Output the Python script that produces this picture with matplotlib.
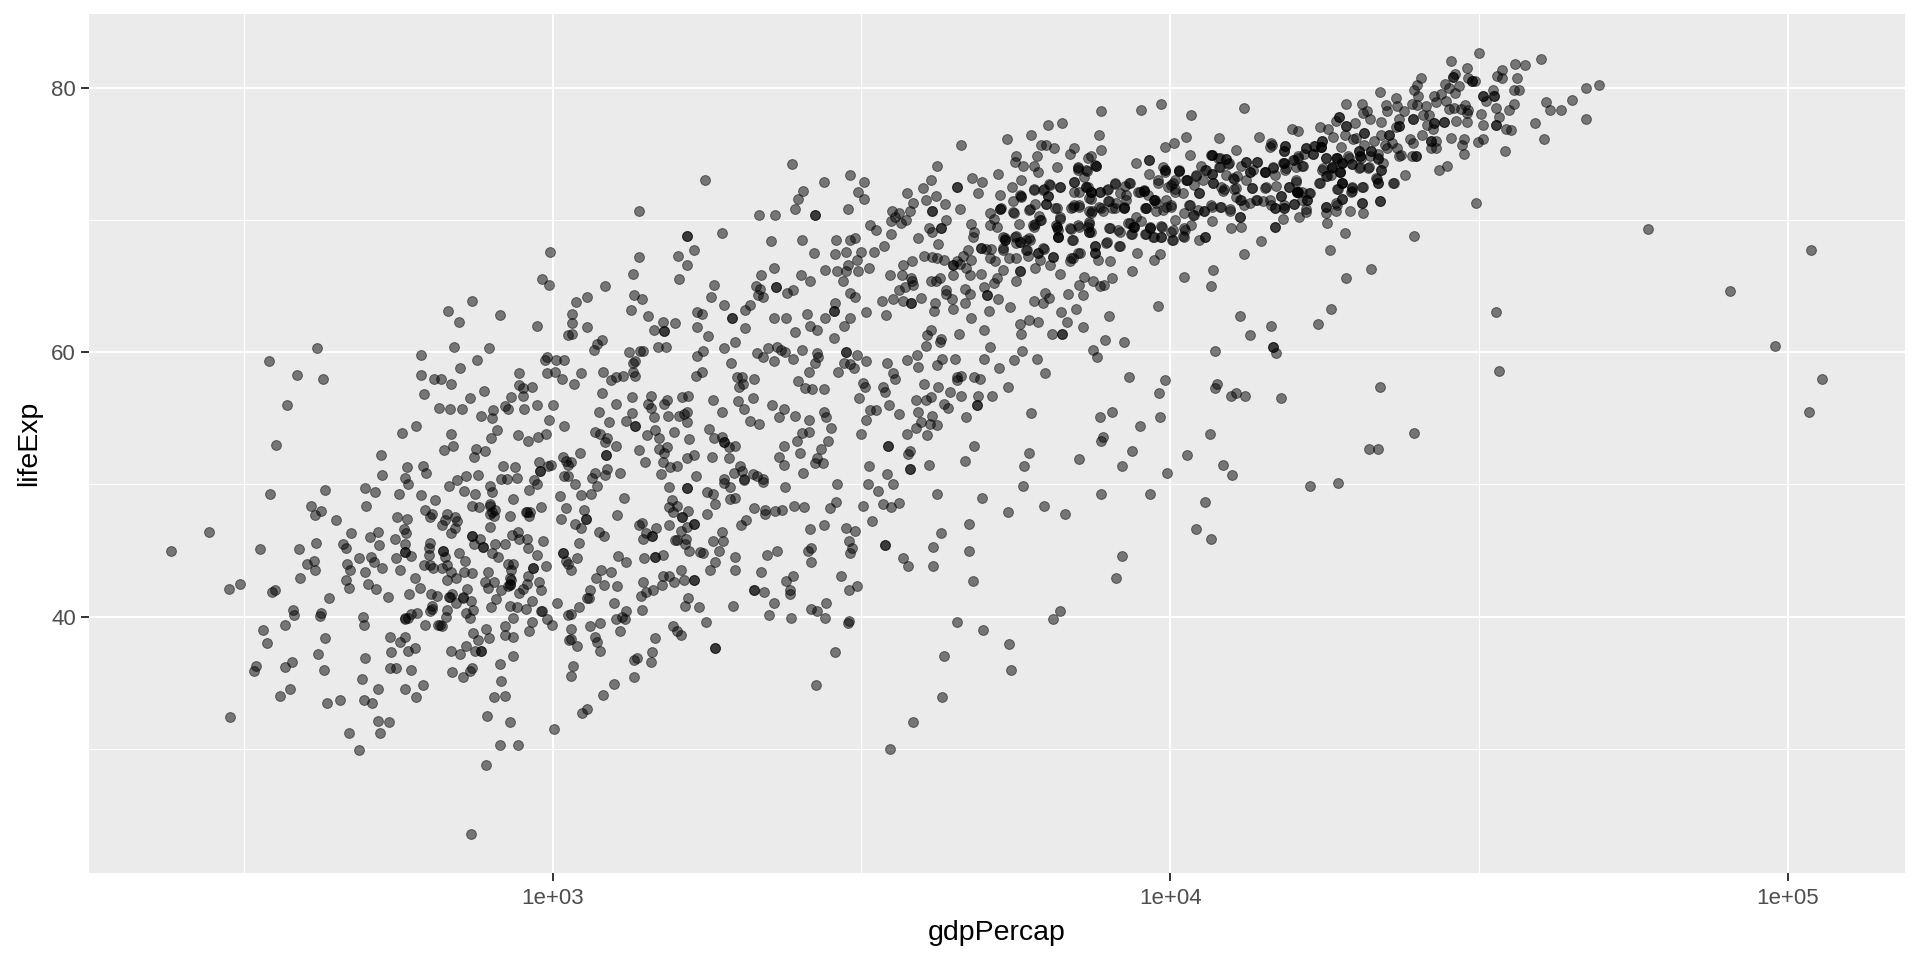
import numpy as np
import matplotlib
matplotlib.use('Agg')
import matplotlib.pyplot as plt
from matplotlib.ticker import FixedLocator, FixedFormatter, NullFormatter

plt.rcParams['font.family'] = ['Liberation Sans', 'DejaVu Sans']

# values: (log10 gdpPercap, lifeExp)
poor_low = [
(2.382,45.0),(2.443,46.4),(2.526,45.1),(2.476,42.1),(2.494,42.5),(2.545,41.9),(2.550,42.0),(2.589,45.1),(2.591,42.9),(2.602,44.0),
(2.613,44.2),(2.615,43.5),(2.616,45.6),(2.609,48.4),(2.625,48.0),(2.615,47.7),(2.632,49.6),(2.542,49.3),(2.649,47.3),(2.673,46.3),
(2.660,45.5),(2.666,45.2),(2.638,41.4),(2.579,40.5),(2.581,40.1),(2.625,40.3),(2.623,40.05),(2.566,39.4),(2.531,39.0),(2.537,38.0),
(2.631,38.4),(2.620,37.2),(2.519,36.3),(2.516,35.9),(2.566,36.2),(2.578,36.6),(2.630,36.0),(2.574,34.5),(2.558,34.0),(2.634,33.5),
(2.656,33.7),(2.477,32.4),(2.670,31.2),(2.686,29.9),(2.717,32.1),(2.735,32.0),(2.720,31.2),(2.695,33.7),(2.707,33.5),(2.717,34.5),
(2.691,35.3),(2.696,36.9),(2.693,40.0),(2.695,39.4),(2.667,44.0),(2.672,43.5),(2.666,42.8),(2.670,42.2),(2.687,44.4),(2.696,43.4),
(2.701,42.5),(2.713,42.1),(2.705,44.5),(2.710,44.1),(2.724,43.7),(2.733,41.5),(2.704,46.0),(2.717,46.4),(2.719,45.4),(2.744,45.9),
(2.746,44.4),(2.753,43.5),(2.761,45.5),(2.760,44.9),(2.771,44.6),(2.759,46.6),(2.763,46.3),(2.747,47.5),(2.764,47.4),(2.698,48.4),
(2.696,49.7),(2.712,49.4),(2.751,49.3),(2.765,50.0),(2.787,49.2),(2.810,48.8),(2.793,48.1),(2.805,47.8),(2.802,47.5),(2.820,46.9),
(2.829,47.8),(2.826,47.3),(2.841,47.5),(2.845,47.2),(2.841,46.7),(2.835,46.3),(2.777,42.9),(2.785,42.2),(2.767,41.7),(2.801,45.6),
(2.799,45.2),(2.799,44.7),(2.791,43.9),(2.801,43.9),(2.806,43.7),(2.823,45.0),(2.826,44.5),(2.820,43.7),(2.829,43.9),(2.835,43.4),
(2.829,42.8),(2.844,42.9),(2.803,41.7),(2.812,41.6),(2.832,41.5),(2.837,41.7),(2.844,41.0),(2.854,41.5),(2.861,42.1),(2.868,41.2),
(2.804,40.8),(2.802,40.4),(2.781,40.3),(2.771,40.2),(2.761,39.8),(2.765,39.9),(2.828,40.5),(2.827,40.0),(2.793,39.4),(2.815,39.4),
(2.820,39.3),(2.859,40.3),(2.866,39.9),(2.871,40.5),(2.736,38.5),(2.761,38.5),(2.753,38.1),(2.738,37.3),(2.765,37.4),(2.777,37.6),
(2.736,36.1),(2.746,36.1),(2.771,36.0),(2.760,34.5),(2.790,34.8),(2.779,33.9),(2.835,37.4),(2.850,37.2),(2.860,37.8),(2.837,35.8),
(2.855,35.4),(2.866,35.9),(2.870,36.1),(2.874,37.4),(2.884,37.4),(2.884,37.4),(2.871,38.8),(2.879,38.2),(2.892,39.1),(2.896,38.4),
(2.923,39.3),(2.923,38.6),(2.935,38.5),(2.962,38.9),(2.966,39.6),(2.935,39.9),(2.915,36.4),(2.936,37.0),(2.917,35.1),(2.905,33.9),
(2.923,34.0),(2.893,32.5),(2.931,32.0),(2.915,30.3),(2.944,30.3),(2.892,28.8),(2.868,23.6),(3.002,31.5),(3.048,32.7),(3.056,33.0),
(3.081,34.1),(3.099,34.9),(3.132,35.4),(3.029,35.5),(3.033,36.3),(3.131,36.7),(3.137,36.9),(3.026,38.2),(3.030,38.3),(3.040,37.8),
(3.030,39.1),(3.060,39.3),(3.076,39.5),(3.068,38.5),(3.071,38.1),(3.076,37.4),(3.109,38.9),(3.102,39.8),(3.112,40.0),(3.117,39.8),
(3.119,40.4),(3.099,41.0),(3.007,41.0),(2.999,39.4),(2.991,39.8),(2.981,40.4),(2.957,40.6),(2.942,40.7),(2.931,40.8),(2.900,40.7),
(2.908,41.3),(2.966,41.2),(2.946,41.8),(2.952,42.1),(2.958,42.5),(2.960,43.1),(2.981,42.0),(2.978,42.6),(2.928,42.3),(2.931,42.5),
(2.917,42.0),(2.905,42.6),(2.890,42.6),(2.895,42.2),(2.895,43.4),(2.857,43.4),(2.870,43.3),(2.858,44.2),(2.848,44.8),(2.902,44.8),
(2.911,44.5),(2.927,44.0),(2.936,44.0),(2.933,43.5),(2.931,42.9),(2.968,43.7),(2.989,43.8),(2.974,44.7),(2.960,45.2),(2.985,45.7),
(2.958,45.9),(2.945,45.9),(2.943,46.4),(2.934,46.2),(2.923,45.5),(2.906,45.5),(2.887,45.3),(2.872,45.5),(2.870,46.1),(2.882,45.9),
(2.898,46.8),(2.869,48.4),(2.881,48.3),(2.899,48.5),(2.899,47.8),(2.906,48.1),(2.905,47.6),(2.931,47.6),(2.935,48.9),(2.956,47.9),
(2.964,47.9),(2.962,47.6),(2.981,48.3),(2.856,49.5),(2.874,49.3),(2.902,49.4),(2.898,49.9),(2.832,49.9),(3.012,49.1),(3.022,48.2),
(3.013,47.4),(3.036,47.0),(3.046,46.7),(3.042,45.6),(3.051,48.1),(3.054,47.4),(3.046,49.2),(3.062,49.3),(3.071,49.9),(3.036,50.0),
(3.075,46.4),(3.083,46.1),(3.104,47.7),(3.116,49.0),(3.017,44.8),(3.022,44.2),(3.030,43.5),(3.039,44.4),(3.078,43.5),(3.070,42.9),
(3.083,42.4),(3.060,42.0),(3.056,41.4),(3.042,40.7),(3.024,40.1),(3.030,40.2),(3.094,43.4),(3.104,42.3),(3.106,44.6),(3.119,44.1),
(3.140,46.9),(2.961,49.6),(2.974,50.0),
(2.823,45.0),(2.869,46.1),(2.887,45.3),(2.958,47.9),(2.901,47.9),(2.898,48.4),(2.968,43.7),(2.930,42.4),(2.933,42.8),(2.834,41.5),
(2.854,41.4),(3.058,41.4),(3.054,47.4),(3.016,44.8),(3.025,44.0),(2.982,40.4),(2.761,44.9),(2.761,39.9),(2.817,39.4),(2.804,40.6),
]

poor_high = [
(2.541,59.3),(2.586,58.3),(2.618,60.3),(2.628,58.0),(2.570,56.0),(2.552,53.0),(2.722,52.2),(2.756,53.9),(2.779,54.4),(2.764,51.3),
(2.724,50.7),(2.790,51.4),(2.794,50.9),(2.787,59.8),(2.787,58.3),(2.792,56.8),(2.808,58.0),(2.819,58.0),(2.835,57.6),(2.840,60.4),
(2.850,58.8),(2.877,59.4),(2.897,60.3),(2.830,63.1),(2.848,62.3),(2.869,63.9),(2.915,62.8),(2.974,62.0),(2.995,67.6),(2.983,65.5),
(2.994,65.1),(3.085,65.0),(3.037,63.8),(3.056,64.2),(3.032,62.9),(3.031,62.2),(3.056,61.9),(3.025,61.3),(3.032,61.4),(3.080,60.9),
(3.071,60.6),(3.067,60.2),(2.991,59.6),(2.987,59.4),(3.005,59.4),(3.019,59.4),(2.991,58.4),(3.004,58.5),(3.015,58.0),(2.945,58.4),
(3.046,58.4),(3.034,57.6),(3.082,58.5),(2.946,57.5),(2.952,57.3),(2.966,57.4),(2.952,56.7),(2.933,56.6),(2.888,57.1),(2.866,56.5),
(2.816,55.8),(2.833,55.7),(2.853,55.7),(2.884,55.2),(2.903,55.6),(2.902,55.0),(2.923,55.9),(2.927,55.7),(2.954,55.7),(2.974,56.0),
(3.000,56.0),(2.994,54.9),(3.018,54.4),(3.075,55.5),(3.080,56.9),(3.102,56.1),(3.129,56.6),(3.129,55.4),(3.119,54.8),(3.091,54.7),
(3.069,54.0),(3.077,53.8),(3.088,53.5),(3.084,53.2),(3.102,52.9),(3.087,52.2),(3.087,52.2),(2.835,53.8),(2.909,54.1),(2.900,53.5),
(2.943,53.7),(2.960,53.3),(2.976,53.6),(2.989,53.8),(2.838,52.9),(2.824,52.6),(2.876,52.7),(2.872,52.1),(2.890,52.5),(3.044,52.4),
(3.016,52.1),(3.022,51.8),(3.029,51.7),(3.024,51.5),(2.919,51.4),(2.939,51.3),(2.978,51.7),(2.997,51.5),(2.992,51.4),(2.979,51.0),
(2.979,51.0),(2.879,50.7),(2.859,50.6),(3.018,50.6),(3.025,50.6),(3.069,50.9),(3.088,51.2),(3.085,50.7),(3.109,50.9),(2.942,50.5),
(2.917,50.4),(2.926,50.4),(3.063,50.5),(2.761,50.5),(2.845,50.3),(2.970,50.3),(3.139,70.7),(3.139,67.2),(3.130,65.9),(3.131,64.3),
(3.127,63.2),(3.123,60.0),(3.141,60.1),(3.130,59.2),(3.133,59.3),(3.130,58.5),(3.133,58.2),(3.113,58.2),(3.103,58.1),(3.095,57.9),
(3.133,54.4),(3.133,54.4),(3.139,52.6),
]

middle_high = [
(3.246,73.0),(3.387,74.2),(3.334,70.4),(3.360,70.4),(3.393,70.8),(3.397,71.6),(3.406,72.2),(3.439,72.9),(3.481,73.4),(3.504,72.9),
(3.494,72.1),(3.504,71.6),(3.479,70.8),(3.424,70.4),(3.424,70.4),(3.218,68.8),(3.218,68.8),(3.274,69.0),(3.229,67.7),(3.203,67.3),
(3.217,66.6),(3.204,65.5),(3.261,65.1),(3.256,64.2),(3.278,63.6),(3.353,68.4),(3.403,68.5),(3.459,68.5),(3.482,68.5),(3.490,68.6),
(3.423,67.5),(3.457,67.4),(3.475,67.6),(3.499,67.6),(3.358,66.4),(3.337,65.8),(3.402,65.8),(3.417,65.4),(3.441,66.2),(3.461,66.1),
(3.475,66.1),(3.479,66.6),(3.493,67.0),(3.494,66.1),(3.512,66.4),(3.470,65.4),(3.330,65.0),(3.336,64.8),(3.362,64.9),(3.362,64.9),
(3.379,64.5),(3.389,64.7),(3.333,64.3),(3.341,64.2),(3.481,64.5),(3.490,64.2),(3.457,63.7),(3.455,63.1),(3.455,63.1),(3.320,63.6),
(3.311,63.2),(3.233,63.0),(3.242,62.9),(3.291,62.6),(3.291,62.6),(3.358,62.6),(3.377,62.6),(3.411,62.9),(3.441,62.6),(3.481,62.6),
(3.507,63.0),(3.539,62.8),(3.533,63.9),(3.551,64.0),(3.154,62.7),(3.145,64.0),(3.178,62.3),(3.198,62.2),(3.164,61.7),(3.181,61.6),
(3.181,61.6),(3.233,61.9),(3.311,61.8),(3.252,61.2),(3.416,62.0),(3.428,61.7),(3.393,61.5),(3.472,62.0),(3.455,61.1),(3.295,60.8),
(3.170,60.4),(3.183,60.4),(3.146,60.1),(3.278,60.3),(3.243,60.1),(3.233,59.7),(3.331,59.9),(3.348,60.3),(3.364,60.4),(3.369,60.2),
(3.376,60.0),(3.404,60.2),(3.428,59.9),(3.430,59.6),(3.341,59.6),(3.358,59.3),(3.389,59.5),(3.289,59.2),(3.424,59.2),(3.415,58.5),
(3.475,60.0),(3.475,60.0),(3.492,59.8),(3.507,59.3),(3.472,59.2),(3.481,59.1),(3.488,58.8),(3.462,58.5),(3.241,58.5),(3.232,58.2),
(3.298,58.1),(3.307,58.1),(3.326,58.0),(3.308,57.6),(3.301,57.4),(3.398,57.8),(3.409,57.3),(3.420,57.2),(3.439,57.2),(3.259,56.4),
(3.324,56.5),(3.300,56.3),(3.309,55.7),(3.274,55.5),(3.355,56.0),(3.374,55.7),(3.366,55.1),(3.393,55.2),(3.415,54.9),(3.439,55.5),
(3.442,55.1),(3.451,54.3),(3.319,54.8),(3.334,54.6),(3.404,53.9),(3.415,54.0),(3.395,53.3),(3.445,53.3),(3.374,52.9),(3.435,52.7),
(3.253,54.2),(3.261,53.5),(3.274,53.6),(3.278,53.2),(3.278,53.2),(3.285,52.8),(3.295,52.9),(3.220,53.4),(3.196,54.0),(3.166,54.1),
(3.172,53.5),(3.153,53.7),(3.185,52.8),(3.172,52.7),(3.181,52.4),(3.229,52.2),(3.217,52.0),(3.258,52.1),(3.285,52.0),(3.366,52.1),
(3.375,51.5),(3.401,52.4),(3.428,52.0),(3.424,51.6),(3.438,51.6),(3.405,50.9),(3.149,51.7),(3.179,51.7),(3.190,51.3),(3.202,51.4),
(3.175,50.8),(3.303,51.4),(3.293,50.9),(3.307,51.0),(3.325,50.8),(3.331,50.6),(3.232,50.6),(3.277,50.4),(3.309,50.4),(3.340,50.4),
(3.159,56.7),(3.185,56.4),(3.181,56.1),(3.209,56.6),(3.219,56.7),(3.155,56.1),(3.159,55.8),(3.217,55.5),(3.212,55.3),(3.204,55.2),
(3.186,55.2),(3.164,55.1),(3.217,54.7),
]

band_mid = [
(3.499,53.8),(3.507,54.9),(3.514,55.6),(3.524,55.6),(3.496,56.5),(3.502,57.7),(3.506,57.4),(3.535,57.4),(3.538,57.0),(3.545,56.0),
(3.560,55.3),(3.541,59.2),(3.551,58.4),(3.555,58.0),(3.574,59.4),(3.592,58.9),(3.590,59.8),(3.601,57.6),(3.624,57.4),(3.622,59.0),
(3.631,59.5),(3.651,59.5),(3.699,59.5),(3.722,58.8),(3.747,59.4),(3.760,60.1),(3.784,59.5),(3.798,58.4),(3.708,60.4),(3.604,60.5),
(3.628,61.0),(3.627,60.8),(3.612,61.7),(3.606,61.3),(3.658,61.4),(3.699,61.7),(3.677,62.6),(3.706,63.1),(3.740,63.4),(3.648,63.3),
(3.617,63.1),(3.619,63.7),(3.667,63.7),(3.647,64.0),(3.637,64.7),(3.637,64.4),(3.596,64.1),(3.580,63.7),(3.580,63.7),(3.568,63.9),
(3.560,64.7),(3.571,64.9),(3.584,65.1),(3.582,65.4),(3.547,65.8),(3.566,65.8),(3.581,65.6),(3.612,65.4),(3.620,65.4),(3.627,65.6),
(3.568,66.6),(3.582,66.9),(3.602,67.3),(3.614,67.2),(3.622,67.1),(3.634,67.0),(3.648,66.6),(3.648,66.6),(3.660,66.7),(3.654,66.9),
(3.648,65.8),(3.664,67.3),(3.672,67.7),(3.677,67.0),(3.670,66.4),(3.676,65.8),(3.667,64.8),(3.676,64.4),(3.699,64.9),(3.704,64.3),
(3.704,64.3),(3.721,64.0),(3.694,65.9),(3.714,65.2),(3.720,65.6),(3.729,66.2),(3.739,67.1),(3.750,67.1),(3.708,67.1),(3.717,66.9),
(3.693,67.9),(3.693,67.9),(3.702,67.8),(3.710,67.8),(3.729,67.7),(3.733,68.5),(3.733,68.5),(3.729,68.7),(3.750,68.8),(3.766,68.5),
(3.773,68.5),(3.756,68.3),(3.768,67.7),(3.769,67.3),(3.786,67.5),(3.796,67.8),(3.789,67.0),(3.756,66.1),(3.756,66.1),(3.750,65.4),
(3.781,66.4),(3.806,66.6),(3.811,67.2),(3.821,65.9),(3.837,66.9),(3.843,67.1),(3.854,67.5),(3.843,68.5),(3.878,68.0),(3.878,67.5),
(3.883,67.0),(3.902,66.9),(3.898,68.3),(3.918,68.0),(3.947,67.5),(3.974,67.0),(3.983,67.4),(3.938,66.1),(3.861,65.7),(3.853,65.1),
(3.875,65.4),(3.886,65.0),(3.892,65.1),(3.905,65.6),(3.835,64.4),(3.858,64.3),(3.798,64.5),(3.804,64.1),(3.779,63.9),(3.794,63.7),
(3.823,63.0),(3.847,63.3),(3.833,62.3),(3.786,62.3),(3.771,62.4),(3.757,62.1),(3.759,61.4),(3.808,61.4),(3.824,61.4),(3.824,61.4),
(3.859,61.9),(3.901,62.7),(3.980,63.5),(3.894,60.9),(3.925,60.8),(3.875,60.2),(3.881,59.6),(3.933,58.1),(3.991,57.9),(3.982,56.9),
(3.983,55.1),(3.906,55.5),(3.886,55.1),(3.775,55.4),(3.951,54.4),(3.891,53.6),(3.888,53.3),(3.938,52.5),(3.771,52.4),(3.763,51.4),
(3.852,51.9),(3.922,51.4),(3.995,50.9),(4.027,52.2),(4.085,51.5),(4.100,50.7),(4.065,53.8),(4.073,57.3),(4.075,57.6),(4.098,56.7),
(4.106,56.9),(4.121,56.7),(4.073,60.1),(4.113,62.7),(4.163,62.0),(4.130,61.3),(4.167,60.4),(4.167,60.4),(4.171,59.9),(4.022,65.7),
(4.066,65.0),(4.070,66.2),(4.120,67.4),(4.147,68.4),(3.661,58.2),(3.655,58.1),(3.654,57.9),(3.683,58.1),(3.692,58.0),(3.738,57.4),
(3.712,56.7),(3.689,56.7),(3.661,56.7),(3.643,57.0),(3.612,56.6),(3.604,56.4),(3.588,56.4),(3.591,55.5),(3.634,56.1),(3.640,55.8),
(3.687,56.0),(3.687,56.0),(3.615,55.2),(3.670,55.1),(3.596,54.7),(3.611,54.6),(3.622,54.5),(3.588,54.3),(3.574,53.8),(3.606,53.7),
(3.682,52.9),(3.543,52.9),(3.543,52.9),(3.578,52.5),(3.576,52.3),(3.512,51.4),(3.541,50.8),(3.578,51.2),(3.578,51.2),(3.609,51.5),
(3.667,51.8),
]

band_top = [
(3.514,69.6),(3.524,69.2),(3.548,68.9),(3.537,68.0),(3.520,67.6),(3.549,70.7),(3.548,69.9),(3.555,70.2),(3.561,70.5),(3.564,69.8),
(3.572,70.0),(3.574,72.0),(3.599,72.4),(3.612,73.0),(3.604,71.5),(3.621,71.8),(3.578,70.7),(3.583,71.3),(3.615,70.7),(3.615,70.7),
(3.635,71.2),(3.660,70.8),(3.637,70.0),(3.629,69.4),(3.629,69.4),(3.609,69.4),(3.614,69.1),(3.592,68.6),(3.624,68.2),(3.622,74.1),
(3.662,75.7),(3.654,72.5),(3.654,72.5),(3.679,73.2),(3.695,72.9),(3.688,72.0),(3.721,73.5),(3.735,76.1),(3.775,76.4),(3.802,77.2),
(3.825,77.3),(3.888,78.2),(3.953,78.3),(3.985,78.8),(4.033,77.9),(4.120,78.5),(3.884,76.4),(3.888,75.3),(3.790,75.7),(3.799,75.7),
(3.812,75.4),(3.845,75.4),(3.837,75.0),(3.750,74.8),(3.748,74.4),(3.761,74.1),(3.779,74.1),(3.786,73.6),(3.784,74.8),(3.816,74.0),
(3.872,74.8),(3.867,74.7),(3.880,74.1),(3.880,74.1),(3.851,73.9),(3.865,73.7),(3.758,73.0),(3.743,72.5),(3.724,71.9),(3.759,71.8),
(3.746,71.4),(3.725,70.8),(3.725,70.8),(3.747,70.5),(3.708,70.5),(3.714,70.1),(3.708,69.6),(3.720,69.5),(3.755,69.7),(3.677,69.7),
(3.683,69.1),(3.680,68.7),(3.781,71.2),(3.773,70.8),(3.781,69.7),(3.789,70.0),(3.779,69.5),(3.780,72.3),(3.795,72.3),(3.804,72.7),
(3.822,72.5),(3.802,71.8),(3.799,71.2),(3.816,70.9),(3.822,70.1),(3.816,69.5),(3.816,69.5),(3.819,68.7),(3.819,68.7),(3.839,69.3),
(3.852,69.5),(3.845,72.9),(3.863,72.5),(3.863,72.5),(3.872,72.1),(3.872,72.1),(3.872,71.6),(3.852,72.1),(3.842,71.0),(3.852,71.1),
(3.868,70.7),(3.872,70.5),(3.868,69.7),(3.868,69.1),(3.868,69.1),(3.886,72.1),(3.899,72.3),(3.910,72.7),(3.935,72.8),(3.888,70.9),
(3.901,71.4),(3.911,70.9),(3.925,70.9),(3.925,70.9),(3.928,71.5),(3.901,69.4),(3.918,69.1),(3.935,69.8),(3.941,69.5),(3.941,69.5),
(3.945,70.2),(3.938,68.9),(3.945,74.3),(3.965,74.5),(3.965,74.5),(3.966,73.5),(3.981,72.8),(3.992,75.5),(4.006,75.8),(4.026,76.3),
(4.032,74.9),(4.079,76.2),(4.106,75.3),(4.143,76.3),(4.165,75.7),(3.991,73.8),(3.991,73.8),(4.015,73.7),(4.015,73.7),(4.027,73.0),
(4.027,73.0),(4.042,73.3),(4.050,74.1),(4.057,73.8),(4.067,74.9),(4.067,74.9),(4.080,74.7),(4.091,74.6),(4.093,74.2),(4.079,74.0),
(4.068,73.5),(3.958,72.2),(3.958,72.2),(3.974,71.5),(3.974,71.5),(3.951,72.1),(3.977,70.7),(3.961,70.9),(3.961,70.9),(3.994,71.0),
(4.007,72.3),(4.004,72.8),(4.001,71.0),(3.968,69.4),(3.968,69.4),(3.986,69.5),(3.961,68.9),(3.973,68.7),(3.985,68.7),(4.004,69.2),
(4.024,69.2),(4.004,68.5),(4.022,68.7),(4.037,70.4),(4.054,70.7),(4.054,70.7),(4.067,71.0),(4.083,71.0),(4.097,70.7),(4.113,70.2),
(4.113,70.2),(4.047,72.0),(4.047,72.0),(4.032,71.1),(4.070,72.8),(4.087,72.3),(4.106,72.4),(4.113,71.5),(4.133,72.4),(4.047,68.5),
(4.057,68.7),(4.057,68.7),(4.067,69.9),(4.098,69.4),(4.115,69.5),(4.153,73.6),(4.153,73.6),(4.123,74.4),(4.141,74.4),(4.129,73.6),
(4.103,73.1),(4.167,73.9),(4.155,72.5),(4.140,71.5),(4.169,70.9),(4.169,70.9),(4.170,69.5),(4.170,69.5),
]

ridge = [
(3.867,72.52),(3.872,72.14),(3.869,71.64),(3.845,72.14),(3.844,71.13),(3.840,70.88),(3.853,71.0),(3.874,70.68),(3.885,71.0),(3.891,70.68),
(3.899,71.4),(3.905,70.88),(3.913,71.26),(3.925,71.0),(3.928,71.89),(3.918,72.02),(3.926,72.57),(3.957,72.27),(3.964,71.89),(3.975,71.51),
(3.977,71.26),(3.959,70.88),(3.988,70.76),(3.994,71.5),(4.002,71.13),(4.007,70.0),(4.023,70.5),(4.038,70.38),(4.031,71.13),(4.045,70.76),
(3.932,69.8),(3.940,69.5),(3.937,68.94),(3.953,69.95),(3.959,68.94),(3.967,69.45),(3.972,68.74),(3.985,69.55),(3.985,68.74),(4.002,69.12),
(4.003,68.49),(4.021,68.79),(4.023,69.37),(4.034,69.6),(3.868,69.87),(3.867,69.5),(3.871,69.12),(3.851,69.62),(3.838,69.37),(3.815,69.62),
(3.818,69.24),(3.818,68.74),(3.821,70.2),(3.813,70.88),(3.778,69.62),(3.791,70.0),(3.772,70.76),(3.787,70.3),(3.746,70.63),(3.726,70.88),
(3.759,71.76),(3.756,71.89),(3.802,71.8),(3.799,71.2),(3.805,72.65),(3.794,72.27),(3.780,72.27),(3.821,72.52),(3.845,72.9),(3.851,73.78),
(3.850,74.0),(3.864,73.78),(3.879,74.16),(3.861,73.28),(3.886,72.14),(3.898,72.27),(3.910,72.77),(3.934,72.82),(3.948,72.14),(3.980,73.0),
(3.991,73.65),(3.989,74.03),(4.014,73.78),(4.007,73.0),(4.007,72.14),(4.021,72.02),(4.002,72.65),(4.026,73.0),(4.042,73.4),(4.039,72.65),
(3.996,72.52),(3.902,69.37),(3.915,69.24),(3.917,68.06),(3.896,68.29),(3.878,68.0),(3.841,68.49),(3.732,68.6),(3.729,67.86),(3.748,68.74),
(3.756,68.36),(3.751,68.24),(3.772,68.6),(3.767,67.73),(3.786,67.48),(3.794,67.86),(3.851,67.48),(3.840,67.1),(3.878,67.48),(3.810,67.2),
(4.066,74.9),(4.077,74.7),(4.090,74.6),(4.095,74.3),(4.081,74.0),(4.058,73.8),(4.068,73.5),(4.053,73.0),(4.091,73.4),(4.102,73.2),
(4.108,73.3),(4.070,72.8),(4.083,72.5),(4.085,72.2),(4.104,72.3),(4.115,74.1),(4.122,74.4),(4.129,73.6),(4.123,73.0),(4.134,73.8),
(4.141,74.4),(4.153,73.6),(4.166,74.0),(4.169,73.4),(4.133,72.4),(4.154,72.4),(4.171,72.6),(4.192,72.5),(4.203,73.0),(4.207,72.1),
(4.207,72.1),(4.226,72.0),(4.221,71.5),(4.180,71.8),(4.183,74.3),(4.187,73.9),(4.199,74.5),(4.207,74.7),(4.215,74.1),(4.220,75.4),
(4.231,75.0),(4.234,75.6),(4.245,75.5),(4.246,76.0),(4.162,75.5),(4.164,75.8),(4.184,75.2),(4.186,75.6),(4.252,74.7),(4.247,73.9),
(4.262,73.9),(4.269,74.7),(4.279,74.3),(4.275,73.6),(4.254,73.3),(4.279,72.8),(4.270,72.3),(4.242,72.8),(4.295,74.2),(4.289,74.7),
(4.307,74.0),(4.322,74.0),(4.306,75.2),(4.309,74.7),(4.326,75.2),(4.336,74.7),(4.342,73.8),(4.335,73.1),(4.336,72.8),(4.362,72.8),
(4.312,72.5),(4.295,72.4),(4.293,72.1),(4.279,71.6),(4.270,71.1),(4.310,71.3),(4.339,71.4),(4.106,71.7),(4.115,71.5),(4.129,71.3),
(4.139,71.5),(4.150,71.4),(4.161,71.5),(4.164,71.1),(4.185,71.1),(4.200,71.2),(4.220,70.8),(4.066,71.1),(4.080,71.0),(4.097,70.8),
(4.120,71.1),
]

rich = [
(4.500,82.6),(4.455,82.0),(4.480,81.5),(4.600,82.2),(4.558,81.8),(4.574,81.7),(4.537,81.3),(4.529,80.9),(4.538,80.7),(4.561,80.7),
(4.406,80.7),(4.400,80.2),(4.395,79.8),(4.461,81.0),(4.458,80.8),(4.458,80.8),(4.445,80.3),(4.467,80.1),(4.451,80.0),(4.461,79.6),
(4.483,80.7),(4.488,80.5),(4.488,80.5),(4.493,80.5),(4.694,80.2),(4.674,80.0),(4.650,79.1),(4.633,78.3),(4.615,78.3),(4.609,78.9),
(4.674,77.6),(4.591,77.3),(4.605,76.1),(4.543,75.2),(4.557,79.8),(4.565,79.8),(4.556,78.8),(4.548,78.3),(4.528,78.5),(4.532,77.8),
(4.528,77.2),(4.528,77.2),(4.544,76.9),(4.552,76.8),(4.507,79.4),(4.507,79.4),(4.523,79.8),(4.524,79.4),(4.524,79.4),(4.511,79.0),
(4.340,79.7),(4.365,79.2),(4.350,78.7),(4.368,78.6),(4.351,78.2),(4.378,78.2),(4.402,79.4),(4.392,78.8),(4.400,78.7),(4.414,78.6),
(4.427,79.4),(4.431,78.9),(4.439,79.5),(4.447,79.0),(4.451,78.4),(4.460,78.5),(4.471,78.4),(4.478,78.7),(4.483,78.3),(4.480,78.1),
(4.504,78.0),(4.481,77.4),(4.507,77.2),(4.463,77.5),(4.410,77.9),(4.419,77.9),(4.416,77.2),(4.428,77.3),(4.428,77.3),(4.443,77.4),
(4.443,77.4),(4.425,76.9),(4.393,77.6),(4.393,77.6),(4.370,77.6),(4.342,77.4),(4.370,77.1),(4.370,77.1),(4.365,77.0),(4.355,76.4),
(4.355,76.4),(4.341,76.4),(4.330,76.0),(4.407,76.4),(4.389,76.1),(4.393,75.8),(4.422,76.0),(4.422,76.0),(4.431,76.0),(4.454,76.2),
(4.475,76.1),(4.473,75.7),(4.475,75.0),(4.499,75.9),(4.506,76.1),(4.422,75.4),(4.431,75.4),(4.392,74.8),(4.398,74.8),(4.398,74.8),
(4.370,74.8),(4.374,74.9),(4.449,74.1),(4.435,73.8),(4.381,73.4),(4.361,72.8),(4.339,71.4),(4.496,71.3),(4.285,78.8),(4.310,78.8),
(4.312,78.1),(4.319,78.2),(4.323,77.6),(4.273,77.8),(4.273,77.8),(4.268,77.5),(4.243,77.0),(4.256,76.9),(4.264,76.3),(4.284,77.1),
(4.284,77.1),(4.300,77.3),(4.283,76.4),(4.296,76.1),(4.301,76.2),(4.314,76.6),(4.314,76.6),(4.314,75.7),(4.348,75.7),(4.360,75.8),
(4.351,75.4),(4.368,75.4),(4.325,75.2),(4.336,75.0),(4.324,74.8),(4.336,74.6),(4.344,74.3),(4.342,73.8),(4.306,75.2),(4.308,74.8),
(4.308,74.8),(4.288,74.8),(4.276,75.5),(4.270,74.7),(4.270,74.7),(4.278,74.3),(4.278,74.3),(4.295,74.2),(4.306,73.9),(4.321,73.9),
(4.246,76.0),(4.245,75.5),(4.245,75.5),(4.233,75.6),(4.220,75.4),(4.231,75.0),(4.252,74.7),(4.246,73.8),(4.262,74.0),(4.262,74.0),
(4.260,73.4),(4.253,73.3),(4.275,73.6),(4.275,73.6),(4.241,72.8),(4.279,72.8),(4.279,72.8),(4.271,72.3),(4.294,72.5),(4.295,72.2),
(4.311,72.5),(4.334,73.2),(4.336,72.8),(4.279,71.6),(4.269,71.3),(4.310,71.3),(4.252,71.0),(4.252,71.0),(4.268,70.7),(4.291,70.7),
(4.312,70.5),(4.253,70.5),(4.220,70.6),(4.209,70.2),(4.254,69.8),(4.197,76.9),(4.207,76.7),(4.186,75.6),(4.184,75.2),(4.207,74.8),
(4.217,75.0),(4.200,74.5),(4.184,74.3),(4.184,74.3),(4.186,73.8),(4.203,74.0),(4.214,74.1),(4.203,72.9),(4.192,72.5),(4.205,72.1),
(4.205,72.1),(4.205,72.1),(4.213,72.1),(4.225,72.0),(4.180,71.8),(4.200,71.2),(4.213,71.5),(4.222,71.5),(4.185,70.9),(4.185,70.9),
(4.182,70.1),(4.283,69.0),(4.395,68.8),(4.258,67.7),(4.326,66.3),(4.285,65.6),(4.261,63.3),(4.240,62.1),(4.527,63.0),(4.773,69.3),
(5.038,67.7),(4.907,64.6),(4.980,60.5),(4.533,58.6),(5.055,58.0),(5.035,55.5),(4.340,57.4),(4.180,56.5),(4.395,53.9),(4.322,52.7),
(4.337,52.7),(4.272,50.1),(4.227,49.9),
]

middle_low = [
(3.888,49.3),(3.967,49.3),(4.057,48.7),(4.042,46.6),(4.066,45.9),(3.922,44.6),(3.912,42.9),(3.821,40.4),(3.810,39.8),(3.761,49.9),
(3.695,49.0),(3.795,48.4),(3.829,47.8),(3.738,47.9),(3.622,49.3),(3.674,47.0),(3.629,46.3),(3.616,45.3),(3.674,45.0),(3.616,43.8),
(3.680,42.7),(3.654,39.6),(3.697,39.0),(3.739,37.9),(3.742,36.0),(3.633,37.0),(3.630,33.9),(3.584,32.0),(3.546,30.0),(3.426,34.8),
(3.457,37.3),(3.263,37.6),(3.263,37.6),(3.161,37.3),(3.159,36.6),(3.165,38.4),(3.194,39.3),(3.201,38.9),(3.208,38.6),(3.248,39.6),
(3.237,40.7),(3.215,40.8),(3.219,41.4),(3.292,40.8),(3.350,40.1),(3.386,39.9),(3.358,41.0),(3.419,40.6),(3.428,40.4),(3.442,41.0),
(3.441,39.9),(3.478,39.5),(3.480,39.7),(3.326,42.0),(3.326,42.0),(3.342,41.9),(3.385,42.0),(3.384,41.7),(3.378,42.7),(3.389,43.1),
(3.338,43.4),(3.295,43.5),(3.296,44.5),(3.262,44.1),(3.254,43.5),(3.228,42.8),(3.228,42.8),(3.212,42.8),(3.196,42.6),(3.207,43.5),
(3.189,43.1),(3.179,43.1),(3.177,42.4),(3.162,42.0),(3.151,41.9),(3.143,41.6),(3.147,42.6),(3.145,40.5),(3.148,44.4),(3.165,44.5),
(3.165,44.5),(3.179,44.7),(3.221,45.0),(3.214,45.5),(3.216,45.9),(3.198,45.8),(3.201,45.8),(3.239,44.9),(3.244,44.8),(3.269,45.0),
(3.260,45.7),(3.276,45.7),(3.274,46.4),(3.207,46.5),(3.217,46.8),(3.228,47.0),(3.228,47.0),(3.188,46.9),(3.168,46.7),(3.161,46.1),
(3.161,46.1),(3.151,46.3),(3.147,45.9),(3.145,47.1),(3.210,47.5),(3.210,47.5),(3.219,48.0),(3.194,47.9),(3.188,48.3),(3.193,48.8),
(3.201,48.4),(3.250,47.8),(3.262,48.5),(3.217,49.7),(3.217,49.7),(3.188,49.8),(3.250,49.4),(3.259,49.3),(3.287,48.9),(3.296,49.0),
(3.326,48.2),(3.344,48.1),(3.344,47.8),(3.360,48.0),(3.371,48.1),(3.391,48.4),(3.407,48.3),(3.449,48.2),(3.459,48.7),(3.305,46.9),
(3.313,47.3),(3.417,46.6),(3.439,46.9),(3.475,46.7),(3.490,46.5),(3.480,45.7),(3.485,45.2),(3.482,44.8),(3.364,45.0),(3.347,44.7),
(3.414,45.0),(3.419,45.2),(3.418,44.1),(3.467,43.1),(3.493,42.3),(3.480,42.0),(3.502,48.4),(3.517,47.2),(3.535,48.5),(3.548,48.3),
(3.560,48.6),(3.538,45.4),(3.538,45.4),(3.568,44.4),(3.575,43.8),(3.510,50.0),(3.527,49.5),(3.551,50.0),(3.460,50.0),(3.376,49.8),
(3.277,50.1),(3.287,49.8),(3.310,50.3),(3.340,50.2),
]

x_breaks = [1e3, 1e4, 1e5]
x_labels = ['1e+03', '1e+04', '1e+05']
x_minor = [10**2.5, 10**3.5, 10**4.5]
y_breaks = [40, 60, 80]
y_minor = [30, 50, 70]

points = np.array(poor_low + poor_high + middle_high + band_mid + band_top + ridge + rich + middle_low)
gdpPercap = 10 ** points[:, 0]
lifeExp = points[:, 1]

fig = plt.figure(figsize=(19.2, 9.6), dpi=100)
ax = fig.add_axes([89/1920, 1 - 872.7/960, (1905 - 89)/1920, (872.7 - 14)/960])
ax.set_facecolor('#EBEBEB')
for s in ax.spines.values():
    s.set_visible(False)

ax.scatter(gdpPercap, lifeExp, s=50, c='black', alpha=0.5, linewidths=0.7, edgecolors='black', zorder=3)

ax.set_xscale('log')
ax.set_xlim(10**2.249, 10**5.19)
ax.set_ylim(20.64, 85.57)

ax.xaxis.set_major_locator(FixedLocator(x_breaks))
ax.xaxis.set_major_formatter(FixedFormatter(x_labels))
ax.xaxis.set_minor_locator(FixedLocator(x_minor))
ax.xaxis.set_minor_formatter(NullFormatter())
ax.set_yticks(y_breaks)
ax.set_yticks(y_minor, minor=True)

ax.set_axisbelow(True)
ax.grid(which='major', color='white', linewidth=1.5)
ax.grid(which='minor', color='white', linewidth=0.75)
ax.tick_params(which='major', length=5.8, width=1.4, color='#333333', labelcolor='#4D4D4D', labelsize=16)
ax.tick_params(axis='x', which='major', pad=5.5)
ax.tick_params(axis='y', which='major', pad=3.5)
ax.tick_params(which='minor', length=0)

ax.set_xlabel('gdpPercap', fontsize=20.5, color='black', labelpad=7.5)
ax.set_ylabel('lifeExp', fontsize=20.5, color='black', labelpad=6.5)

fig.savefig('out.png', dpi=100)
